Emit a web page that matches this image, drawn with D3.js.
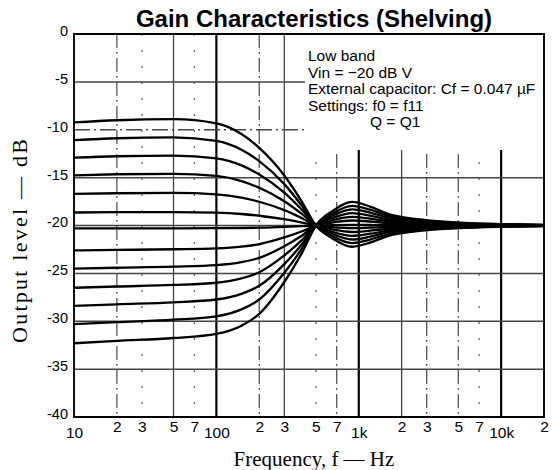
<!DOCTYPE html>
<html><head><meta charset="utf-8">
<script src="https://cdn.jsdelivr.net/npm/d3@7"></script>
<style>body{margin:0;background:#fff}svg{display:block}</style>
</head><body><svg id="c" width="556" height="470"></svg>
<script>
const freqs = [10, 20, 50, 100, 150, 200, 300, 400, 500, 650, 900, 1200, 1600, 2500, 5000, 10000, 20000];
const boost11 = [-9.23, -9.01, -8.9, -9.34, -10.45, -11.9, -14.78, -17.56, -20, -21.33, -22.22, -21.78, -21.11, -20.61, -20.28, -20.13, -20.06];
const boost9 = [-11.08, -10.89, -10.8, -11.17, -12.09, -13.28, -15.68, -17.98, -20, -21.1, -21.84, -21.47, -20.92, -20.51, -20.23, -20.11, -20.05];
const boost7 = [-12.92, -12.77, -12.7, -12.99, -13.72, -14.67, -16.57, -18.39, -20, -20.88, -21.46, -21.17, -20.73, -20.4, -20.18, -20.09, -20.04];
const boost5 = [-14.76, -14.65, -14.6, -14.82, -15.36, -16.06, -17.46, -18.81, -20, -20.65, -21.08, -20.86, -20.54, -20.3, -20.14, -20.06, -20.03];
const boost3 = [-16.7, -16.63, -16.6, -16.74, -17.08, -17.52, -18.4, -19.25, -20, -20.41, -20.68, -20.54, -20.34, -20.19, -20.09, -20.04, -20.02];
const boost1 = [-18.64, -18.61, -18.6, -18.66, -18.8, -18.98, -19.34, -19.69, -20, -20.17, -20.28, -20.22, -20.14, -20.08, -20.04, -20.02, -20.01];
const flat0 = [-20.3, -20.29, -20.29, -20.28, -20.26, -20.23, -20.14, -20.07, -20, -19.96, -19.94, -19.95, -19.97, -19.98, -19.99, -20, -20];
const cut3 = [-22.6, -22.55, -22.48, -22.39, -22.21, -21.95, -21.25, -20.6, -20, -19.69, -19.48, -19.58, -19.74, -19.86, -19.93, -19.97, -19.99];
const cut5 = [-24.5, -24.41, -24.3, -24.14, -23.83, -23.38, -22.16, -21.04, -20, -19.46, -19.1, -19.28, -19.55, -19.75, -19.89, -19.95, -19.98];
const cut7 = [-26.5, -26.37, -26.21, -25.98, -25.53, -24.88, -23.12, -21.5, -20, -19.22, -18.7, -18.96, -19.35, -19.64, -19.84, -19.92, -19.97];
const cut8 = [-28.4, -28.23, -28.02, -27.73, -27.14, -26.3, -24.03, -21.93, -20, -18.99, -18.32, -18.66, -19.16, -19.54, -19.79, -19.9, -19.96];
const cut10 = [-30.3, -30.09, -29.84, -29.48, -28.76, -27.73, -24.94, -22.37, -20, -18.76, -17.94, -18.35, -18.97, -19.43, -19.74, -19.88, -19.95];
const cut12 = [-32.3, -32.05, -31.75, -31.32, -30.46, -29.23, -25.9, -22.83, -20, -18.52, -17.54, -18.03, -18.77, -19.32, -19.69, -19.85, -19.94];
const allSeries = [boost11, boost9, boost7, boost5, boost3, boost1, flat0, cut3, cut5, cut7, cut8, cut10, cut12];

const xTickValues = [10, 20, 30, 50, 70, 100, 200, 300, 500, 700, 1000, 2000, 3000, 5000, 7000, 10000, 20000];
const xTickLabels = ["10", "2", "3", "5", "7", "100", "2", "3", "5", "7", "1k", "2", "3", "5", "7", "10k", "2"];
const yTickValues = [0, -5, -10, -15, -20, -25, -30, -35, -40];
const yTickLabels = ["0", "-5", "-10", "-15", "-20", "-25", "-30", "-35", "-40"];
const noteLines = ["Low band", "Vin = \u221220 dB V", "External capacitor: Cf = 0.047 \u00b5F", "Settings:  f0 = f11"];
const noteLast = "Q = Q1";

const svg = d3.select("#c");
const L = 74, R = 544, T = 34, B = 417;
const x = d3.scaleLog().domain([10, 20000]).range([L, R]);
const y = d3.scaleLinear().domain([-40, 0]).range([B, T]);

// vertical grid
const vStyle = {20:"dd",30:"dot",50:"solid",70:"dot",100:"thick",200:"dd",300:"solid",500:"dot",700:"dd",1000:"thick",2000:"solid",3000:"dd",5000:"dd",7000:"dot",10000:"thick"};
const g = svg.append("g");
Object.keys(vStyle).forEach(k => {
  const f = +k, s = vStyle[k];
  const ln = g.append("line").attr("x1", x(f)).attr("x2", x(f)).attr("y1", T).attr("y2", B);
  if (s === "thick") ln.attr("stroke", "#000").attr("stroke-width", 2.2);
  else if (s === "solid") ln.attr("stroke", "#444").attr("stroke-width", 1.3);
  else if (s === "dd") ln.attr("stroke", "#555").attr("stroke-width", 1.3).attr("stroke-dasharray", "14,4,2,4");
  else ln.attr("stroke", "#666").attr("stroke-width", 1.3).attr("stroke-dasharray", "2,14");
});
// horizontal grid
[-5, -15, -20, -25, -30, -35].forEach(v => {
  g.append("line").attr("x1", L).attr("x2", R).attr("y1", y(v)).attr("y2", y(v))
    .attr("stroke", "#444").attr("stroke-width", 1.5);
});
g.append("line").attr("x1", L).attr("x2", R).attr("y1", y(-10)).attr("y2", y(-10))
  .attr("stroke", "#444").attr("stroke-width", 1.5).attr("stroke-dasharray", "16,4,2,4");

// note box (covers grid)
svg.append("rect").attr("x", 305).attr("y", T + 1).attr("width", R - 306).attr("height", 115).attr("fill", "#fff");

// curves
const line = d3.line().x((d, i) => x(freqs[i])).y(d => y(d)).curve(d3.curveMonotoneX);
svg.append("g").selectAll("path").data(allSeries).join("path")
  .attr("d", line).attr("fill", "none").attr("stroke", "#000").attr("stroke-width", 2.3);

// frame
svg.append("path").attr("d", `M${L},${B}V${T}H${R}V${B}Z`).attr("fill", "none").attr("stroke", "#000").attr("stroke-width", 1.9);

// axes
const xAxis = d3.axisBottom(x).tickValues(xTickValues).tickSize(0).tickPadding(6)
  .tickFormat((d, i) => xTickLabels[i]);
const xg = svg.append("g").attr("transform", `translate(0,${B})`).call(xAxis);
xg.select(".domain").remove();
xg.selectAll("text").attr("font-family", "Liberation Sans, Arial, sans-serif").attr("font-size", 15.5).attr("fill", "#000")
  .attr("dy", (d, i) => ["10","100","1k","10k"].includes(xTickLabels[i]) ? "0.95em" : "0.55em");

const yAxis = d3.axisLeft(y).tickValues(yTickValues).tickSize(0).tickPadding(6)
  .tickFormat((d, i) => yTickLabels[i]);
const yg = svg.append("g").attr("transform", `translate(${L},0)`).call(yAxis);
yg.select(".domain").remove();
yg.selectAll("text").attr("font-family", "Liberation Sans, Arial, sans-serif").attr("font-size", 14.5).attr("fill", "#000").attr("dy", "0.1em");

// titles
svg.append("text").attr("x", 314).attr("y", 27).attr("text-anchor", "middle")
  .attr("font-family", "Liberation Sans, Arial, sans-serif").attr("font-weight", "bold").attr("font-size", 24)
  .text("Gain Characteristics (Shelving)");
svg.append("text").attr("x", 314).attr("y", 466).attr("text-anchor", "middle")
  .attr("font-family", "Liberation Serif, Times New Roman, serif").attr("font-size", 21)
  .text("Frequency, f \u2014 Hz");
svg.append("text").attr("transform", "translate(27,241) rotate(-90)").attr("text-anchor", "middle")
  .attr("font-family", "Liberation Serif, Times New Roman, serif").attr("font-size", 22)
  .attr("textLength", 204).attr("lengthAdjust", "spacing")
  .text("Output level \u2014 dB");

// note
const note = svg.append("g").attr("font-family", "Liberation Sans, Arial, sans-serif").attr("font-size", 15.5);
noteLines.forEach((t, i) => note.append("text").attr("x", 308).attr("y", 61 + i * 16.5).text(t));
note.append("text").attr("x", 370).attr("y", 61 + 4 * 16.5).text(noteLast);
</script></body></html>
